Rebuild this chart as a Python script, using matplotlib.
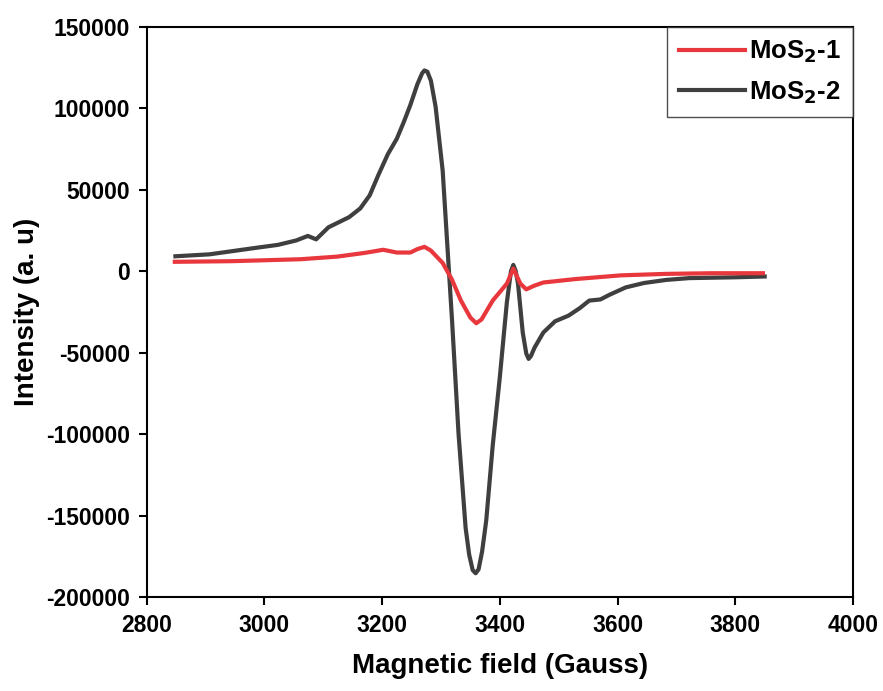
"""
EPR spectra of the two MoS2 samples.
"""

import numpy as np
import matplotlib.pyplot as plt

plt.rcParams['font.family'] = ['Liberation Sans', 'DejaVu Sans']
plt.rcParams['font.weight'] = 'bold'
plt.rcParams['mathtext.default'] = 'bf'
plt.rcParams['axes.unicode_minus'] = False

# MoS2-1 (field in Gauss, intensity in a. u.)
field_1 = [2848, 2946, 3062, 3124, 3171, 3202, 3225, 3248, 3260, 3272, 3283,
           3303, 3319, 3334, 3350, 3360, 3369, 3388, 3412, 3423, 3435, 3445,
           3459, 3474, 3528, 3606, 3683, 3761, 3847]
intens_1 = [5800, 6200, 7400, 9000, 11300, 13200, 11500, 11500, 13600, 15000, 12700,
            5100, -5300, -18000, -28400, -31900, -29600, -18000, -7600, 1600, -7600, -11100,
            -8800, -6900, -4800, -2500, -1600, -1200, -1200]

# MoS2-2
field_2 = [2849, 2907, 2984, 3023, 3054, 3074, 3088, 3109, 3144, 3163, 3179,
           3194, 3210, 3225, 3237, 3248, 3260, 3268, 3272, 3277, 3283, 3291, 3303, 3311,
           3319, 3330, 3342, 3348, 3354, 3359, 3364, 3370, 3377, 3388, 3400, 3412, 3419, 3423,
           3427, 3431, 3439, 3445, 3449, 3453, 3459, 3474, 3494, 3517, 3536, 3552, 3571, 3586,
           3614, 3645, 3683, 3722, 3800, 3850]
intens_2 = [9200, 10400, 14300, 16200, 18900, 21700, 19600, 27000, 33200, 38600, 46600,
            59300, 72000, 81300, 91700, 102000, 114800, 121500, 123300, 122500, 117000, 101000, 61700, 15500,
            -30700, -100000, -157700, -174000, -183500, -185400, -183000, -172000, -153000, -107000, -65300, -19200, 0, 3900,
            200, -7600, -37600, -50500, -53800, -52000, -46900, -37600, -30700, -27200, -22600, -18000, -17300, -14500,
            -9900, -7200, -5300, -4200, -3700, -3200]

fig = plt.figure(figsize=(8.83, 6.91), dpi=100)
ax = fig.add_axes([0.166, 0.136, 0.800, 0.825])

ax.plot(field_1, intens_1, color='#e8383d', lw=3, label=r'MoS$_2$-1', zorder=3)
ax.plot(field_2, intens_2, color='#3f3f3f', lw=3, label=r'MoS$_2$-2', zorder=2)

ax.set_xlim(2800, 4000)
ax.set_ylim(-200000, 150000)
ax.set_xticks(np.arange(2800, 4001, 200))
ax.set_yticks(np.arange(-200000, 150001, 50000))

for s in ax.spines.values():
    s.set_linewidth(1.5)
ax.tick_params(direction='out', length=6, width=1.5, labelsize=16.5, pad=6)

ax.set_xlabel('Magnetic field (Gauss)', fontsize=20, fontweight='bold', labelpad=12)
ax.set_ylabel('Intensity (a. u)', fontsize=20, fontweight='bold', labelpad=4)

leg = ax.legend(loc='upper right', fontsize=18.5, frameon=True, fancybox=False,
                borderaxespad=0, handlelength=2.6, handletextpad=0.15,
                borderpad=0.45, labelspacing=0.55)
leg.get_frame().set_edgecolor('#222222')
leg.get_frame().set_linewidth(1.0)

fig.savefig('out.png', dpi=100)
